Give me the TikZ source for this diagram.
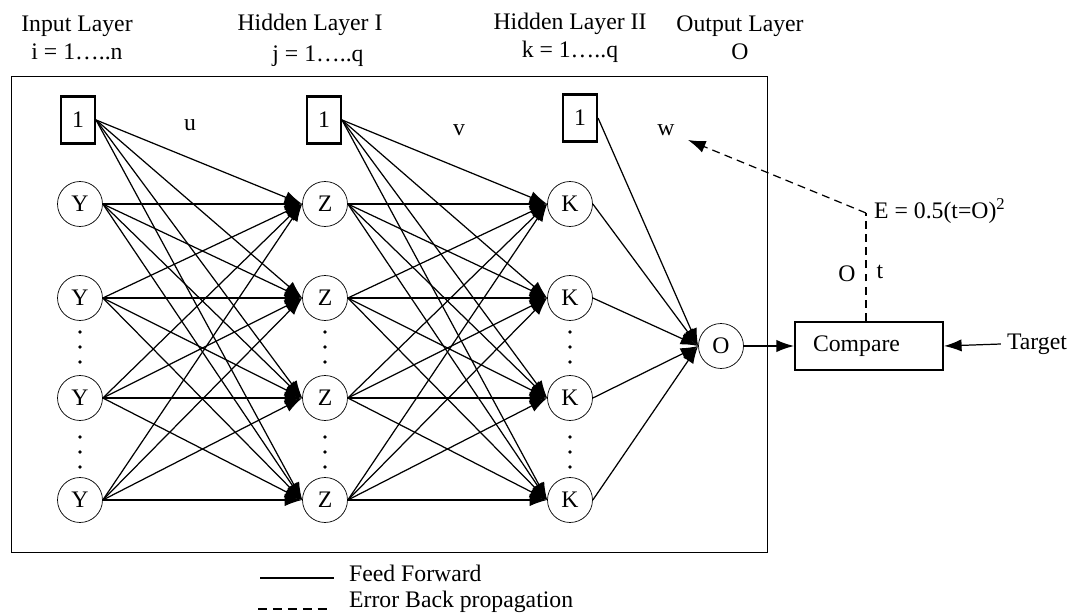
\documentclass[tikz,border=0pt]{standalone}
\usepackage{fontspec}
\setmainfont{Liberation Serif}
\usetikzlibrary{arrows.meta}
\begin{document}
\begin{tikzpicture}[x=0.02cm,y=-0.02cm,font=\fontsize{13.5}{16}\selectfont,
    neuron/.style={draw,circle,minimum size=0.9cm,inner sep=0pt},
    bias/.style={draw,line width=1.2pt,minimum width=0.68cm,minimum height=0.94cm,inner sep=0pt},
    link/.style={line width=0.7pt,-{Latex[length=10pt,width=7pt]}},
    back/.style={line width=0.7pt,dash pattern=on 4.5pt off 3pt}]
    \useasboundingbox (0,0) rectangle (1073,615);

    % The frame
    \draw (11,76) rectangle (767,552);

    % Layer titles
    \node[align=center] at (77,38) {Input Layer\\i = 1…..n};
    \node at (310,25) {Hidden Layer I};
    \node at (318,56) {j = 1…..q};
    \node[align=center] at (570,38) {Hidden Layer II\\k = 1…..q};
    \node[align=center] at (740,38) {Output Layer\\O};

    % Bias units
    \node[bias] (b1) at (78,120) {1};
    \node[bias] (b2) at (324,120) {1};
    \node[bias] (b3) at (580,118) {1};

    % Weight names
    \node at (190,125) {u};
    \node at (459,130) {v};
    \node at (666,130) {w};

    % The neurons
    \foreach \i/\y in {1/204,2/298,3/398,4/500} {
        \node[neuron] (y\i) at (80,\y) {Y};
        \node[neuron] (z\i) at (325,\y) {Z};
        \node[neuron] (k\i) at (570,\y) {K};
    }
    \node[neuron] (o) at (721,346) {O};

    % The dots
    \foreach \x in {80,325,570}
        \foreach \y in {332,347,362,437,452,467}
            \fill (\x,\y) circle (1.1pt);

    % Feed forward links
    \foreach \a in {b1,y1,y2,y3,y4}
        \foreach \j in {1,...,4}
            \draw[link] (\a.east) -- (z\j.west);
    \foreach \a in {b2,z1,z2,z3,z4}
        \foreach \j in {1,...,4}
            \draw[link] (\a.east) -- (k\j.west);
    \foreach \a in {b3,k1,k2,k3,k4}
        \draw[link] (\a.east) -- (o.west);

    % Compare and target
    \node[draw,line width=1.2pt,minimum width=2.96cm,minimum height=0.96cm,inner xsep=0.36cm,
        text width=2.24cm,align=left] (cmp) at (869,346) {Compare};
    \node (target) at (1037,344) {Target};
    \draw[link] (o.east) -- (cmp.west);
    \draw[link] (target.west) -- (cmp.east);

    % Error back propagation
    \coordinate (corner) at (866,213);
    \coordinate (wtip) at (688,140);
    \draw[back] (cmp.north -| corner) -- (corner);
    \draw[back,-{Latex[length=10pt,width=7pt]}] (corner) -- (wtip);
    \node[anchor=west] at (868,211) {E = 0.5(t=O)\textsuperscript{2}};
    \node at (847,274) {O};
    \node at (880,272) {t};

    % Legend
    \draw[line width=1.2pt] (260,578) -- (334,578);
    \draw[line width=1.2pt,dash pattern=on 5pt off 3.5pt] (258,609) -- (330,609);
    \node[anchor=west] at (343,573) {Feed Forward};
    \node[anchor=west] at (343,602) {Error Back propagation};
\end{tikzpicture}
\end{document}
